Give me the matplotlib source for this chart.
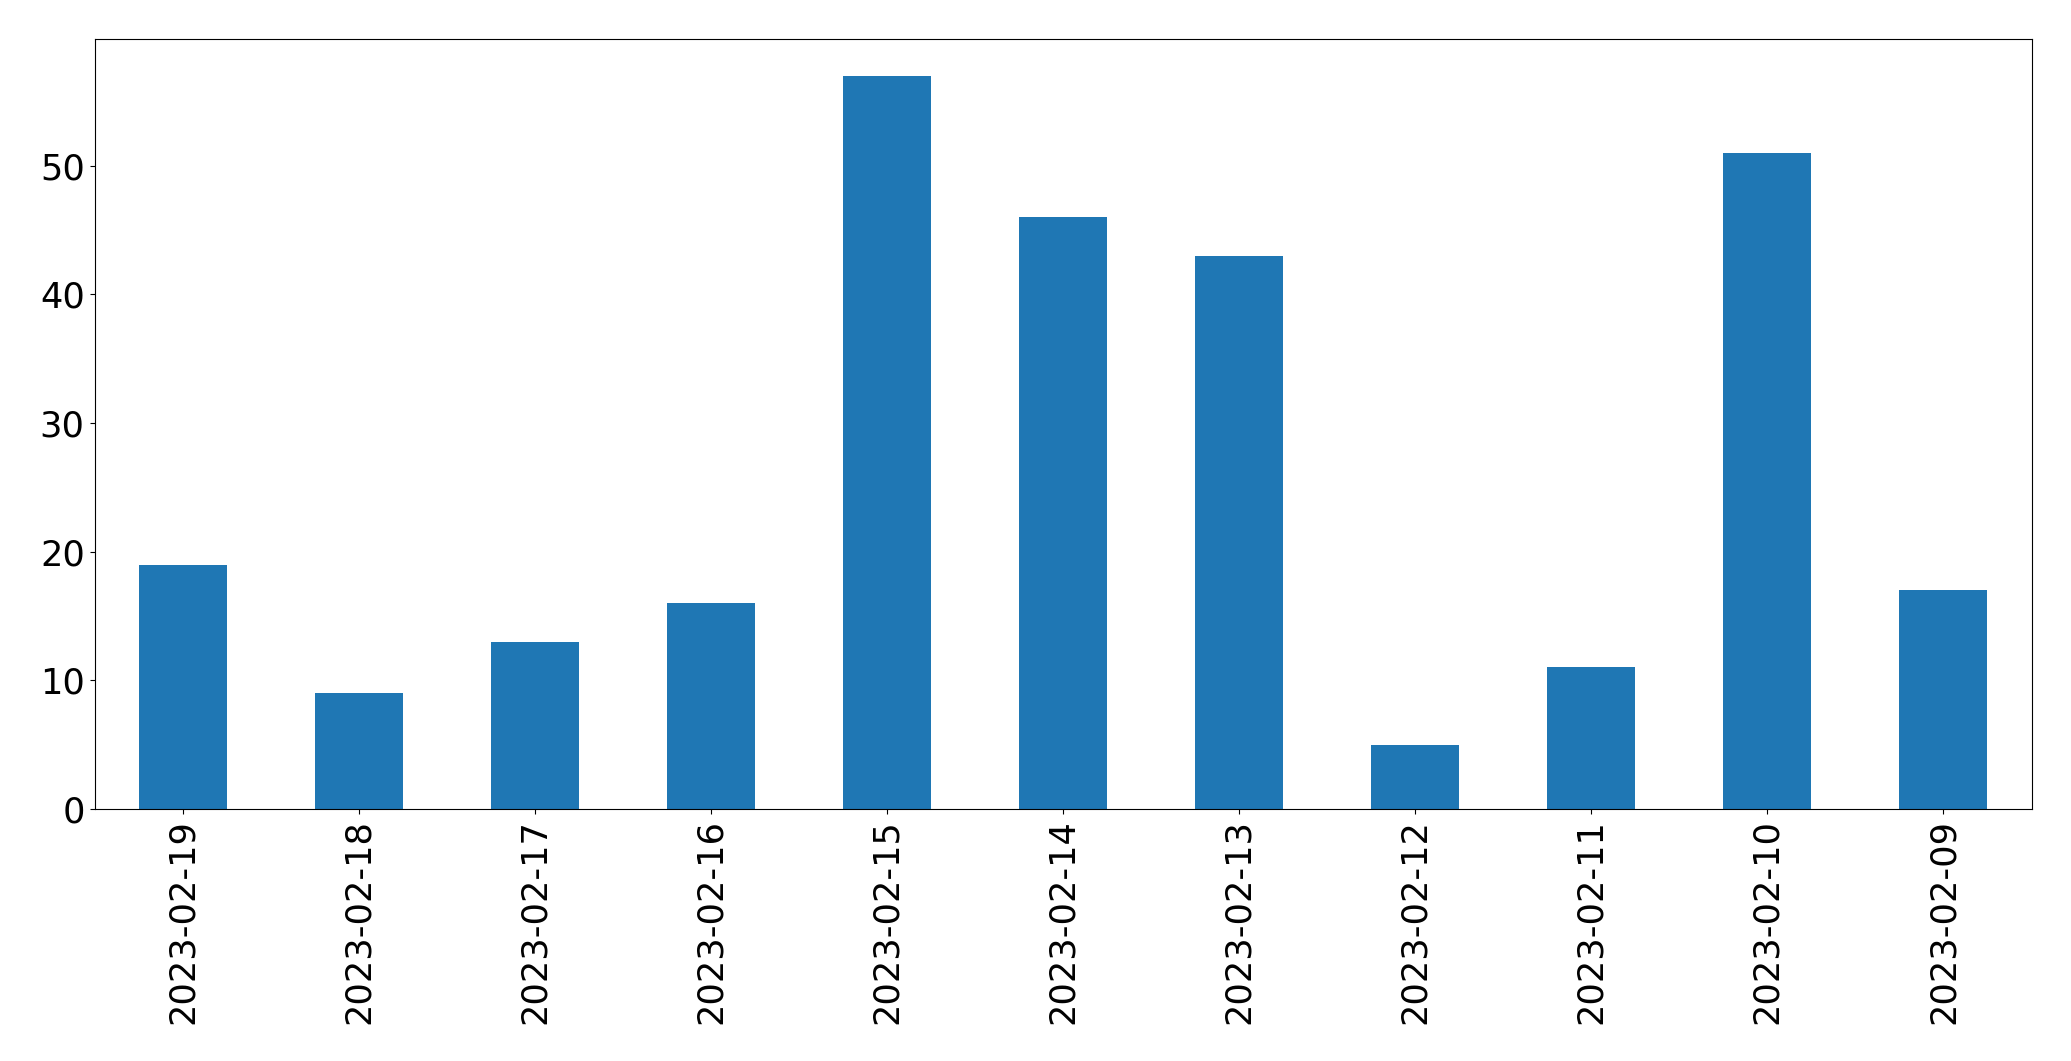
import pandas as pd
import matplotlib
matplotlib.use("Agg")
import matplotlib.pyplot as plt

dates = ["2023-02-19", "2023-02-18", "2023-02-17", "2023-02-16", "2023-02-15",
         "2023-02-14", "2023-02-13", "2023-02-12", "2023-02-11", "2023-02-10",
         "2023-02-09"]
counts = [19, 9, 13, 16, 57, 46, 43, 5, 11, 51, 17]

s = pd.Series(counts, index=dates)

fig = plt.figure(figsize=(20.71, 10.61), dpi=100)
ax = fig.add_axes([94.5 / 2071, 1 - 809 / 1061, (2031.5 - 94.5) / 2071, (809 - 39) / 1061])
s.plot.bar(ax=ax, color="#1f77b4")
ax.tick_params(axis="both", labelsize=25.3)
ax.set_ylim(0, 59.85)
fig.savefig("out.png", dpi=100)
